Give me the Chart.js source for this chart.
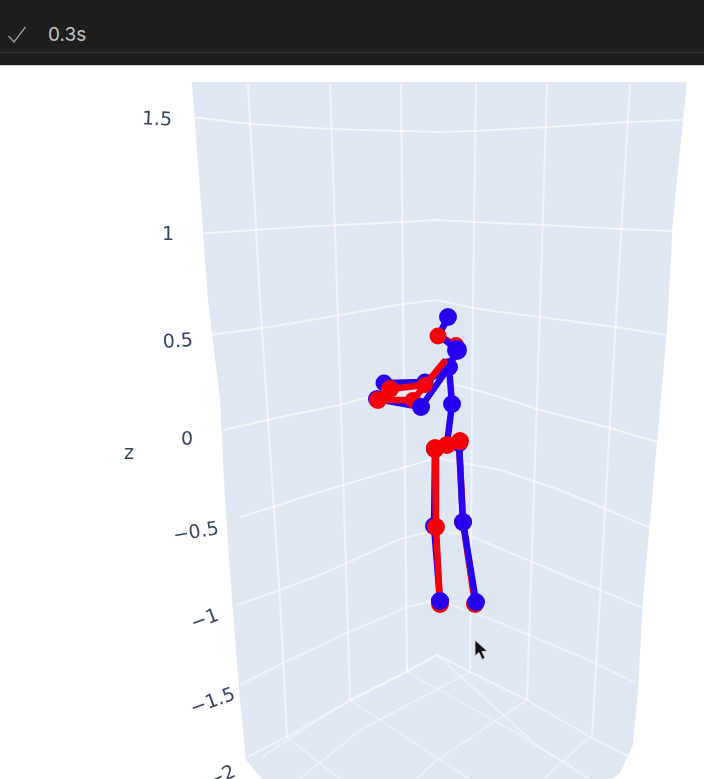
<!DOCTYPE html>
<html><head><meta charset="utf-8">
<style>
html,body{margin:0;padding:0;background:#fff;width:704px;height:779px;overflow:hidden}
#top{position:absolute;left:0;top:0;width:704px;height:65px;background:#1e1e1e;border-bottom:1px solid #c8c8c8}
#rule{position:absolute;left:0;top:52px;width:704px;height:1px;background:#333}
#tick{position:absolute;left:6px;top:25px}
#time{position:absolute;left:48px;top:24px;font:19px/22px "Inter",sans-serif;color:#c4c4c4}
#c{position:absolute;left:0;top:66px}
#cur{position:absolute;left:470px;top:636px}
</style></head><body>
<div id="top"><div id="rule"></div>
<svg id="tick" width="22" height="20"><path d="M2.5 11 L8 17 L19.5 2" fill="none" stroke="#8fa596" stroke-width="1.3"/></svg>
<div id="time">0.3s</div></div>
<canvas id="c" width="704" height="713"></canvas>
<svg id="cur" width="22" height="28"><path d="M5 4 V20 L9 16.5 L12 23.5 L15 22 L12 15.5 L17 15 Z" fill="#111" stroke="#c9cdd6" stroke-width="1"/></svg>
<script src="https://cdn.jsdelivr.net/npm/chart.js@4/dist/chart.umd.js"></script>
<script>
// Axis text
const zTickLabels = ["1.5","1","0.5","0","\u22120.5","\u22121","\u22121.5","\u22122"];
const zTitle = "z";

// Wall panel outline (picture units)
const panelX = [192,687,683,673,667,643,638,633,620,612,262,246,240,232,225,220,208,192];
const panelY = [82,82,120,220,330,600,690,745,773,779,779,760,700,600,500,400,300,82];

// z grid lines on the two back walls
const gridZ15X = [192,250,330,401,437,475,547,630,684];
const gridZ15Y = [117,124,129,131,132,131,127,122,120];
const gridZ10X = [195,300,401,437,475,543,620,673];
const gridZ10Y = [234,227,222,220,222,225,229,231];
const gridZ05X = [210,263,300,403,437,473,500,540,615,667];
const gridZ05Y = [335,328,322,304,300,308,312,317,327,335];
const gridZ00X = [223,267,300,340,403,437,457,500,540,610,660];
const gridZ00Y = [430,420,413,405,388,383,385,397,410,428,443];
const gridM05X = [240,273,300,360,437,500,560,620,655];
const gridM05Y = [517,507,498,480,458,470,490,515,530];
const gridM10X = [237,280,320,400,437,473,520,600,648];
const gridM10Y = [605,590,575,539,530,537,557,590,610];
const gridM15X = [240,283,347,407,437,493,593,636];
const gridM15Y = [685,663,633,607,600,620,662,683];
const gridM20X = [247,287,350,407,437,470,527,590,630];
const gridM20Y = [757,737,700,672,655,672,700,737,757];

// Vertical grid lines on the walls
const wallV1X = [248,260,280,287];   const wallV1Y = [84,300,600,737];
const wallV2X = [330,340,347,350];   const wallV2Y = [84,380,600,700];
const wallV3X = [401,403,405,407];   const wallV3Y = [84,300,480,672];
const wallV4X = [476,473,470];       const wallV4Y = [84,300,670];
const wallV5X = [547,540,527];       const wallV5Y = [84,310,700];
const wallV6X = [630,613,592];       const wallV6Y = [84,370,737];

// Floor grid lines
const floorLines = [
  [[287,737],[340,779]],
  [[350,700],[445,763],[470,779]],
  [[407,672],[520,735],[590,779]],
  [[437,655],[540,748],[573,767]],
  [[590,737],[553,770],[545,779]],
  [[527,700],[433,763],[417,779]],
  [[470,672],[360,730],[300,779]],
  [[437,655],[330,712],[262,757]]
];

// Blue skeleton
const blueLeftLegX  = [435,434,440];       const blueLeftLegY  = [449,526,601];
const blueRightLegX = [459,463,476];       const blueRightLegY = [443,522,602];
const blueTorsoX = [448,439,457,449,452,447]; const blueTorsoY = [317,335,350,367,404,444];
const blueUpperArmX = [449,425,384];       const blueUpperArmY = [367,382,383];
const blueLowerArmX = [449,421,377];       const blueLowerArmY = [367,407,399];

// Red skeleton
const redLeftLegX  = [435,436,440];        const redLeftLegY  = [449,527,604];
const redRightLegX = [459,463,475];        const redRightLegY = [443,522,604];
const redHipX = [435,447,460];             const redHipY = [448,445,441];
const redHeadX = [438];                    const redHeadY = [336];
const redNeckX = [438,456];                const redNeckY = [336,345];
const redUpperArmX = [444,425,390];        const redUpperArmY = [362,385,389];
const redLowerArmX = [444,413,378];        const redLowerArmY = [362,400,400];

const pts = (xs, ys) => xs.map((x, i) => ({x, y: ys[i]}));
const BLUE = "#2800f0", RED = "#f30008";

const gridSet = (xs, ys, a, w) => ({
  data: pts(xs, ys), showLine: true, pointRadius: 0, fill: false, tension: 0,
  borderColor: `rgba(255,255,255,${a})`, borderWidth: w, borderJoinStyle: "round"
});
const bone = (xs, ys, color, r) => ({
  data: pts(xs, ys), showLine: true, tension: 0, fill: false,
  borderColor: color, borderWidth: 6.5, borderJoinStyle: "round", borderCapStyle: "round",
  pointRadius: r, pointBackgroundColor: color, pointBorderWidth: 0, pointBorderColor: color
});

// listed back to front; Chart.js paints the first dataset last, so the list is reversed below
const datasets = [
  {data: pts(panelX, panelY), showLine: true, pointRadius: 0, borderWidth: 0,
   borderColor: "rgba(0,0,0,0)", backgroundColor: "#e0e7f4", fill: "shape", tension: 0},
  gridSet(gridZ15X, gridZ15Y, .62, 2), gridSet(gridZ10X, gridZ10Y, .62, 2),
  gridSet(gridZ05X, gridZ05Y, .6, 2),  gridSet(gridZ00X, gridZ00Y, .6, 2),
  gridSet(gridM05X, gridM05Y, .55, 2), gridSet(gridM10X, gridM10Y, .5, 2),
  gridSet(gridM15X, gridM15Y, .42, 2), gridSet(gridM20X, gridM20Y, .45, 2),
  gridSet(wallV1X, wallV1Y, .6, 2), gridSet(wallV2X, wallV2Y, .55, 2),
  gridSet(wallV3X, wallV3Y, .62, 2), gridSet(wallV4X, wallV4Y, .55, 2),
  gridSet(wallV5X, wallV5Y, .55, 2), gridSet(wallV6X, wallV6Y, .55, 2),
  ...floorLines.map(l => gridSet(l.map(p => p[0]), l.map(p => p[1]), .35, 2)),
  bone(redRightLegX, redRightLegY, RED, 9),
  bone(redNeckX, redNeckY, RED, [0, 8]),
  bone(blueLeftLegX, blueLeftLegY, BLUE, 9),
  bone(blueUpperArmX, blueUpperArmY, BLUE, [0, 8.5, 8.5]),
  bone(blueLowerArmX, blueLowerArmY, BLUE, [0, 8.5, 9]),
  bone(blueTorsoX, blueTorsoY, BLUE, [9, 0, 10, 9, 9, 0]),
  bone(redLowerArmX, redLowerArmY, RED, [0, 8, 9]),
  bone(redUpperArmX, redUpperArmY, RED, [0, 8, 9]),
  bone(blueRightLegX, blueRightLegY, BLUE, 9),
  bone(redLeftLegX, redLeftLegY, RED, 9),
  bone(redHipX, redHipY, RED, 9),
  bone(redHeadX, redHeadY, RED, 8.5),
  bone([blueLeftLegX[2]], [blueLeftLegY[2]], BLUE, 9),
  bone([blueLowerArmX[1]], [blueLowerArmY[1]], BLUE, 9)
].reverse();

// Where each rotated label of the z axis sits in the picture
const tickAnchorX = [157,168,178,187,196,205,213,222];
const tickAnchorY = [120,235,342,440,533,620,702,777];
const tickAngle   = [3,0,-4,0,-10,-20,-20,-25];

const axisText = {
  id: "axisText",
  afterDatasetsDraw(chart) {
    const {ctx, scales: {x, y}} = chart;
    ctx.save();
    ctx.fillStyle = "#33465f";
    ctx.font = '19px "DejaVu Sans"';
    ctx.textAlign = "center";
    ctx.textBaseline = "middle";
    zTickLabels.forEach((t, i) => {
      ctx.save();
      ctx.translate(x.getPixelForValue(tickAnchorX[i]), y.getPixelForValue(tickAnchorY[i]));
      ctx.rotate(tickAngle[i] * Math.PI / 180);
      ctx.fillText(t, 0, 0);
      ctx.restore();
    });
    ctx.fillText(zTitle, x.getPixelForValue(129), y.getPixelForValue(454));
    ctx.restore();
  }
};

new Chart(document.getElementById("c"), {
  type: "scatter",
  data: {datasets},
  options: {
    responsive: false, animation: false,
    layout: {padding: 0, autoPadding: false},
    plugins: {legend: {display: false}, tooltip: {enabled: false}},
    scales: {
      x: {type: "linear", display: false, min: 0, max: 704},
      y: {type: "linear", display: false, min: 66, max: 779, reverse: true}
    }
  },
  plugins: [axisText]
});
</script>
</body></html>
